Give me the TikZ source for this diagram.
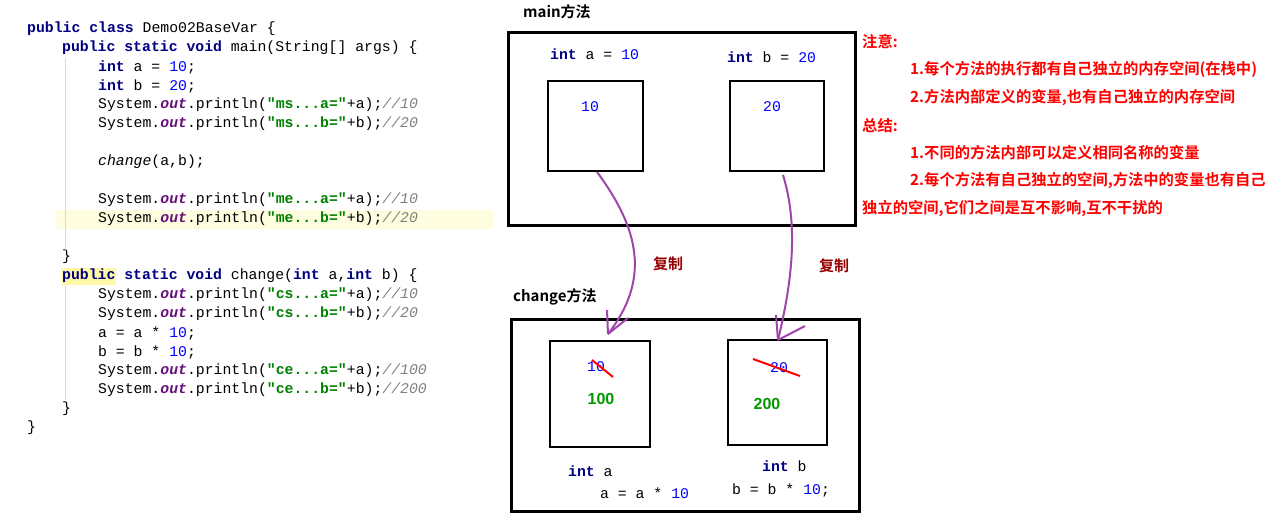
\documentclass[tikz,border=0pt]{standalone}
\usepackage{fontspec}
\setmainfont{Liberation Sans}
\newfontfamily\cjk{Noto Sans CJK SC}[BoldFont={* Bold}]
\newfontfamily\cmono{Liberation Mono}
\definecolor{kw}{RGB}{0,0,128}
\definecolor{num}{RGB}{0,0,255}
\definecolor{str}{RGB}{0,128,0}
\definecolor{cmt}{RGB}{128,128,128}
\definecolor{fld}{RGB}{102,14,122}
\definecolor{arr}{RGB}{160,70,170}
\definecolor{dred}{RGB}{150,0,0}
\newcommand{\K}[1]{\textcolor{kw}{\bfseries #1}}
\newcommand{\N}[1]{\textcolor{num}{#1}}
\newcommand{\Sg}[1]{\textcolor{str}{\bfseries #1}}
\newcommand{\Cm}[1]{\textcolor{cmt}{\itshape #1}}
\newcommand{\Ou}{\textcolor{fld}{\bfseries\itshape out}}
\begin{document}
\begin{tikzpicture}[x=1pt,y=-1pt,
 code/.style={anchor=west,inner sep=0pt,font=\cmono\fontsize{14.8}{14.8}\selectfont},
 box/.style={draw,line width=3pt},
 ibox/.style={draw,line width=2.5pt},
 ttl/.style={anchor=west,inner sep=0pt,font=\cjk\bfseries\fontsize{15}{15}\selectfont},
 note/.style={anchor=west,inner sep=0pt,text=red,font=\cjk\bfseries\fontsize{15.3}{15.3}\selectfont},
 cp/.style={inner sep=0pt,text=dred,font=\cjk\bfseries\fontsize{15}{15}\selectfont},
 parr/.style={draw=arr,line width=2pt},
 strike/.style={draw=red,line width=2pt}]
\useasboundingbox[fill=white] (0,0) rectangle (1280,516);
\fill[yellow!12] (56,210) rectangle (493,229);
\fill[yellow!35] (62,268) rectangle (116,285);
\node[code] (c1) at (27,29) {\K{public class} Demo02BaseVar \{};
\node[code] (c2) at (62,48) {\K{public static void} main(String[] args) \{};
\node[code] (c3) at (98,67) {\K{int} a = \N{10};};
\node[code] (c4) at (98,86) {\K{int} b = \N{20};};
\node[code] (c5) at (98,105) {System.\Ou.println(\Sg{"ms...a="}+a);\Cm{//10}};
\node[code] (c6) at (98,124) {System.\Ou.println(\Sg{"ms...b="}+b);\Cm{//20}};
\node[code] (c7) at (98,162) {\textit{change}(a,b);};
\node[code] (c8) at (98,200) {System.\Ou.println(\Sg{"me...a="}+a);\Cm{//10}};
\node[code] (c9) at (98,219) {System.\Ou.println(\Sg{"me...b="}+b);\Cm{//20}};
\node[code] (c10) at (62,257) {\}};
\node[code] (c11) at (62,276) {\K{public static void} change(\K{int} a,\K{int} b) \{};
\node[code] (c12) at (98,295) {System.\Ou.println(\Sg{"cs...a="}+a);\Cm{//10}};
\node[code] (c13) at (98,314) {System.\Ou.println(\Sg{"cs...b="}+b);\Cm{//20}};
\node[code] (c14) at (98,333) {a = a * \N{10};};
\node[code] (c15) at (98,352) {b = b * \N{10};};
\node[code] (c16) at (98,371) {System.\Ou.println(\Sg{"ce...a="}+a);\Cm{//100}};
\node[code] (c17) at (98,390) {System.\Ou.println(\Sg{"ce...b="}+b);\Cm{//200}};
\node[code] (c18) at (62,409) {\}};
\node[code] (c19) at (27,428) {\}};
\draw[gray!30] (65,58) -- (65,250) (65,286) -- (65,400);
% main
\node[ttl] (mt) at (523,12) {main方法};
\draw[box] (508,33) rectangle (855,225);
\node[code] (ia) at (550,54) {\K{int} a = \N{10}};
\node[code] (ib) at (727,57) {\K{int} b = \N{20}};
\draw[ibox] (548,81) rectangle (643,171);
\draw[ibox] (730,81) rectangle (824,171);
\node[code] (va) at (581,107) {\N{10}};
\node[code] (vb) at (763,107) {\N{20}};
% change
\node[ttl] (ct) at (513,297) {change方法};
\draw[box] (511,319) rectangle (859,511);
\draw[ibox] (550,341) rectangle (650,447);
\draw[ibox] (728,340) rectangle (827,445);
\node[code] (oa) at (587,367) {\N{10}};
\node[code] (ob) at (770,368) {\N{20}};
\draw[strike] (592,360) -- (613,377);
\draw[strike] (753,359) -- (800,376);
\node[inner sep=0pt,text=green!60!black,font=\bfseries\fontsize{16}{16}\selectfont] (na) at (601,399) {100};
\node[inner sep=0pt,text=green!60!black,font=\bfseries\fontsize{16}{16}\selectfont] (nb) at (767,404) {200};
\node[code] (la) at (568,471) {\K{int} a};
\node[code] (ea) at (600,493) {a = a * \N{10}};
\node[code] (lb) at (762,466) {\K{int} b};
\node[code] (eb) at (732,490) {b = b * \N{10};};
% arrows
\coordinate (s1) at (597,172); \coordinate (t1) at (608,334);
\coordinate (s2) at (783,175); \coordinate (t2) at (778,340);
\draw[parr] (s1) .. controls (640,230) and (650,280) .. (t1);
\draw[parr] (t1) -- (607,310) (t1) -- (628,318);
\draw[parr] (s2) .. controls (800,230) and (790,290) .. (t2);
\draw[parr] (t2) -- (776,315) (t2) -- (805,326);
\node[cp] (cp1) at (668,264) {复制};
\node[cp] (cp2) at (834,266) {复制};
% notes
\node[note] (n0) at (862,42) {注意:};
\node[note] (n1) at (910,69) {1.每个方法的执行都有自己独立的内存空间(在栈中)};
\node[note] (n2) at (910,98) {2.方法内部定义的变量,也有自己独立的内存空间};
\node[note] (n3) at (862,126) {总结:};
\node[note] (n4) at (910,153) {1.不同的方法内部可以定义相同名称的变量};
\node[note] (n5) at (910,181) {2.每个方法有自己独立的空间,方法中的变量也有自己};
\node[note] (n6) at (862,209) {独立的空间,它们之间是互不影响,互不干扰的};
\end{tikzpicture}
\end{document}
